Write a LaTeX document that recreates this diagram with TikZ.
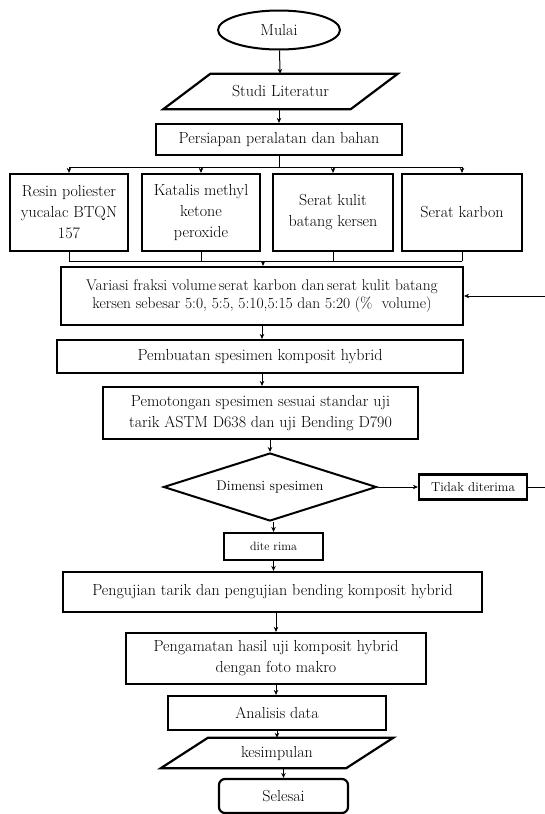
\documentclass[tikz,border=0pt]{standalone}
\usetikzlibrary{shapes.geometric,arrows.meta}
\begin{document}
\begin{tikzpicture}[x=1pt,y=-1pt,
  box/.style={draw,line width=2.2pt,align=center,inner sep=2pt,font=\fontsize{16}{21}\selectfont},
  para/.style={align=center,inner sep=0pt,font=\fontsize{16}{21}\selectfont},
  paraline/.style={line width=2.2pt,line join=miter},
  line/.style={line width=1pt},
  arr/.style={line width=1pt,-{Stealth[length=5pt,width=4.5pt]}}]
\useasboundingbox (0,0) rectangle (545,814);
% start
\node[draw,ellipse,line width=2pt,minimum width=122pt,minimum height=39pt,font=\fontsize{16}{21}\selectfont] (mulai) at (279,30) {Mulai};
\node[para,minimum width=187pt,minimum height=35pt] (studi) at (280.5,91.5) {Studi Literatur};
\draw[paraline] ([xshift=-23.5pt]studi.south west) -- ([xshift=-23.5pt]studi.south east)
  -- ([xshift=23.5pt]studi.north east) -- ([xshift=23.5pt]studi.north west) -- cycle;
\node[box,minimum width=246pt,minimum height=31pt] (persiapan) at (279,139.5) {Persiapan peralatan dan bahan};
% bahan
\node[box,minimum width=118pt,minimum height=77pt] (resin) at (69,212.5) {Resin poliester\\yucalac BTQN\\157};
\node[box,minimum width=118pt,minimum height=77pt] (katalis) at (201,212.5) {Katalis methyl\\ketone\\peroxide};
\node[box,minimum width=120pt,minimum height=77pt] (kulit) at (333,212.5) {Serat kulit\\batang kersen};
\node[box,minimum width=120pt,minimum height=77pt] (karbon) at (462,212.5) {Serat karbon};
\node[box,minimum width=402pt,minimum height=58pt,font=\fontsize{15.5}{18}\selectfont] (variasi) at (262,296)
  {Variasi fraksi volume\,serat karbon dan\,serat kulit batang\\kersen sebesar 5:0, 5:5, 5:10,5:15 dan 5:20 (\% \ volume)};
\node[box,minimum width=406pt,minimum height=33pt] (pembuatan) at (260,356.5) {Pembuatan spesimen komposit hybrid};
\node[box,minimum width=315pt,minimum height=52pt] (pemotongan) at (260.5,413) {Pemotongan spesimen sesuai standar uji\\tarik ASTM D638 dan uji Bending D790};
% keputusan
\node[draw,diamond,shape aspect=3.1,line width=2pt,minimum width=213pt,minimum height=68pt,inner sep=0pt,font=\fontsize{14}{16}\selectfont] (dimensi) at (270,487) {Dimensi spesimen};
\node[box,minimum width=108pt,minimum height=25pt,font=\fontsize{13}{15}\selectfont] (tidak) at (473,487) {Tidak diterima};
\node[box,minimum width=99pt,minimum height=27pt,font=\fontsize{12}{14}\selectfont] (diterima) at (273.5,546.5) {dite rima};
\node[box,minimum width=419pt,minimum height=40pt] (pengujian) at (272.5,592) {Pengujian tarik dan pengujian bending komposit hybrid};
\node[box,minimum width=300pt,minimum height=51pt] (pengamatan) at (276,658.5) {Pengamatan hasil uji komposit hybrid\\dengan foto makro};
\node[box,minimum width=218pt,minimum height=34pt] (analisis) at (277,713) {Analisis data};
\node[para,minimum width=185pt,minimum height=30pt] (kesimpulan) at (277,753) {kesimpulan};
\draw[paraline] ([xshift=-23.5pt]kesimpulan.south west) -- ([xshift=-23.5pt]kesimpulan.south east)
  -- ([xshift=23.5pt]kesimpulan.north east) -- ([xshift=23.5pt]kesimpulan.north west) -- cycle;
\node[box,rounded corners=6pt,minimum width=129pt,minimum height=34pt] (selesai) at (283.5,796) {Selesai};
% alur
\draw[arr] (mulai) -- (studi);
\draw[arr] (studi.south -| persiapan.north) -- (persiapan.north);
\coordinate (split) at (279,167);
\draw[line] (persiapan.south) -- (split);
\draw[line] (resin.north |- split) -- (karbon.north |- split);
\foreach \n in {resin,katalis,kulit,karbon}
  \draw[arr] (\n.north |- split) -- (\n.north);
\coordinate (merge) at (263,261);
\foreach \n in {resin,katalis,kulit,karbon}
  \draw[line] (\n.south) -- (\n.south |- merge);
\draw[line] (resin.south |- merge) -- (karbon.south |- merge);
\draw[arr] (merge) -- (merge |- variasi.north);
\draw[arr] (variasi.south) -- (variasi.south |- pembuatan.north);
\draw[arr] (variasi.south |- pembuatan.south) -- (variasi.south |- pemotongan.north);
\draw[arr] (dimensi.north |- pemotongan.south) -- (dimensi.north);
\draw[arr] (dimensi.east) -- (tidak.west);
\draw[arr] (tidak.east) -- ++(30,0) |- (variasi.east);
\draw[arr] (dimensi.south -| diterima.north) -- (diterima.north);
\draw[arr] (diterima.south) -- (diterima.south |- pengujian.north);
\draw[arr] (pengamatan.north |- pengujian.south) -- (pengamatan.north);
\draw[arr] (pengamatan.south) -- (pengamatan.south |- analisis.north);
\draw[arr] (analisis.south) -- (analisis.south |- kesimpulan.north);
\draw[arr] (kesimpulan.south -| selesai.north) -- (selesai.north);
\end{tikzpicture}
\end{document}
